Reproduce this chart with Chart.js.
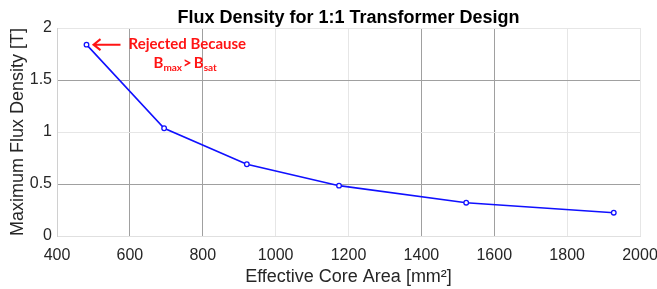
<!DOCTYPE html>
<html>
<head>
<meta charset="utf-8">
<script src="https://cdn.jsdelivr.net/npm/chart.js@4"></script>
<style>
  html, body { margin: 0; padding: 0; background: #fff; }
  #wrap { width: 657px; height: 289px; }
</style>
</head>
<body>
<div id="wrap"><canvas id="chart"></canvas></div>
<script>
// data
const coreArea = [481, 694, 921, 1174, 1523, 1928];      // mm^2
const fluxDensity = [1.84, 1.036, 0.69, 0.484, 0.32, 0.224]; // T
const xTicks = [400, 600, 800, 1000, 1200, 1400, 1600, 1800, 2000];
const yTicks = [0, 0.5, 1, 1.5, 2];

// gridlines that show darker in the picture
const darkX = [600, 800, 1400, 1600];
const darkY = [0.5, 1.5];

const labelFont = 'Liberation Sans, Arial, sans-serif';
const noteFont = 'Lato, "Open Sans", sans-serif';

// red "Rejected Because Bmax > Bsat" note with arrow
const notePlugin = {
  id: 'note',
  afterDraw(chart) {
    const ctx = chart.ctx;
    const xs = chart.scales.x, ys = chart.scales.y;
    const px = xs.getPixelForValue(coreArea[0]);
    const py = ys.getPixelForValue(fluxDensity[0]);
    ctx.save();
    ctx.strokeStyle = '#ff1414';
    ctx.fillStyle = '#ff1414';
    ctx.lineWidth = 2;
    // arrow
    const x0 = px + 7, x1 = px + 34;
    ctx.beginPath();
    ctx.moveTo(x1, py);
    ctx.lineTo(x0, py);
    ctx.moveTo(x0 + 7, py - 5.5);
    ctx.lineTo(x0, py);
    ctx.lineTo(x0 + 7, py + 5.5);
    ctx.stroke();
    // text
    ctx.textBaseline = 'alphabetic';
    ctx.font = 'bold 15px ' + noteFont;
    ctx.fillText('Rejected Because', px + 42, py + 4.5);
    let tx = px + 67, ty = py + 23.5;
    ctx.fillText('B', tx, ty); tx += ctx.measureText('B').width;
    ctx.font = 'bold 10px ' + noteFont;
    ctx.fillText('max', tx, ty + 2.5); tx += ctx.measureText('max').width + 1;
    ctx.font = 'bold 15px ' + noteFont;
    ctx.fillText('>', tx, ty); tx += ctx.measureText('>').width + 2;
    ctx.fillText('B', tx, ty); tx += ctx.measureText('B').width;
    ctx.font = 'bold 10px ' + noteFont;
    ctx.fillText('sat', tx, ty + 2.5);
    ctx.restore();
  }
};

new Chart(document.getElementById('chart'), {
  type: 'scatter',
  data: {
    datasets: [{
      data: coreArea.map((x, i) => ({ x: x, y: fluxDensity[i] })),
      showLine: true,
      borderColor: '#1010ff',
      borderWidth: 1.6,
      pointRadius: 2.3,
      pointBorderWidth: 1.3,
      pointBackgroundColor: '#ffffff',
      pointBorderColor: '#1010ff',
      tension: 0
    }]
  },
  options: {
    responsive: true,
    maintainAspectRatio: false,
    animation: false,
    layout: { padding: { left: 0, right: 17, top: 0, bottom: 0 } },
    plugins: {
      legend: { display: false },
      tooltip: { enabled: false },
      title: {
        display: true,
        fullSize: false,
        text: 'Flux Density for 1:1 Transformer Design',
        color: '#000',
        font: { family: labelFont, size: 18, weight: 'bold', lineHeight: 1 },
        padding: { top: 9, bottom: 1 }
      }
    },
    scales: {
      x: {
        type: 'linear',
        min: 400,
        max: 2000,
        afterBuildTicks: s => { s.ticks = xTicks.map(v => ({ value: v })); },
        afterFit: s => { s.height = 53; s.paddingLeft = 0; s.paddingRight = 0; },
        grid: {
          drawTicks: false,
          color: c => darkX.includes(c.tick && c.tick.value) ? '#a0a0a0' : '#e6e6e6',
          lineWidth: 1
        },
        border: { color: '#e0e0e0' },
        ticks: {
          color: '#262626',
          font: { family: labelFont, size: 16 },
          padding: 10,
          maxRotation: 0,
          callback: v => String(v)
        },
        title: {
          display: true,
          text: 'Effective Core Area [mm\u00B2]',
          color: '#262626',
          font: { family: labelFont, size: 18 },
          padding: { top: 0, bottom: 1 }
        }
      },
      y: {
        type: 'linear',
        min: 0,
        max: 2,
        afterBuildTicks: s => { s.ticks = yTicks.map(v => ({ value: v })); },
        afterFit: s => { s.width = 57; },
        grid: {
          drawTicks: false,
          color: c => darkY.includes(c.tick && c.tick.value) ? '#a0a0a0' : '#e6e6e6',
          lineWidth: 1
        },
        border: { color: '#d0d0d0' },
        ticks: {
          color: '#262626',
          font: { family: labelFont, size: 16 },
          padding: 5,
          callback: v => String(v)
        },
        title: {
          display: true,
          text: 'Maximum Flux Density [T]',
          color: '#262626',
          font: { family: labelFont, size: 18 },
          padding: { top: 7, bottom: 0 }
        }
      }
    }
  },
  plugins: [notePlugin]
});
</script>
</body>
</html>
